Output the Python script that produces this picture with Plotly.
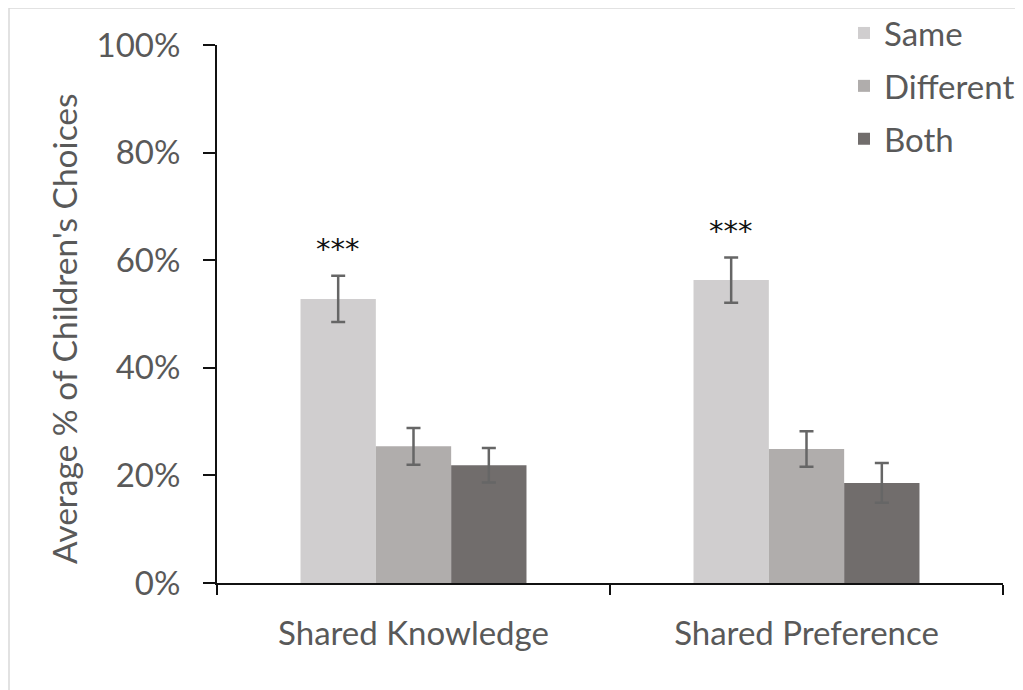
import plotly.graph_objects as go

categories = ["Shared Knowledge", "Shared Preference"]
series_names = ["Same", "Different", "Both"]
same_vals = [52.8, 56.3]
same_err = [4.3, 4.2]
diff_vals = [25.4, 24.9]
diff_err = [3.4, 3.3]
both_vals = [21.9, 18.6]
both_err = [3.2, 3.7]
colors = ["#d0cecf", "#b0adac", "#716d6c"]
y_ticks = [0, 20, 40, 60, 80, 100]
y_tick_labels = ["0%", "20%", "40%", "60%", "80%", "100%"]
star_labels = ["***", "***"]
y_title = "Average % of Children's Choices"

FONT = "Lato, 'Open Sans', sans-serif"
TXT = "#595959"
BARGAP = 0.425

W, H = 1015, 682
L, T, PW, PH = 209, 37, 786, 538

fig = go.Figure()
for name, vals, errs, col in zip(series_names, [same_vals, diff_vals, both_vals],
                                 [same_err, diff_err, both_err], colors):
    fig.add_trace(go.Bar(
        name=name, x=categories, y=vals, marker=dict(color=col, line=dict(width=0)),
        legendgroup=name,
        error_y=dict(type="data", array=errs, visible=True, color="#666666",
                     thickness=2.5, width=7),
    ))

bar_w = (1 - BARGAP) / 3
for i, (v, e, s) in enumerate(zip(same_vals, same_err, star_labels)):
    fig.add_annotation(x=i - bar_w, y=v + e + 5.0, xref="x", yref="y", text=s,
                       showarrow=False, yanchor="middle",
                       font=dict(family="DejaVu Sans, sans-serif", size=29, color="#111111"))

def px(xp): return (xp - L) / PW
def py(yp): return (T + PH - yp) / PH

# y-axis title (placed like the reference, slightly below the axis centre)
fig.add_annotation(x=px(56), y=py(321), xref="paper", yref="paper", text=y_title,
                   textangle=-90, showarrow=False, xanchor="center", yanchor="middle",
                   font=dict(family=FONT, size=33.5, color=TXT))

# light outer border (only top/left visible in reference)
fig.add_shape(type="rect", xref="paper", yref="paper",
              x0=px(1), x1=px(1040), y0=py(0), y1=py(710),
              line=dict(color="#d9d9d9", width=1.5), layer="below")

fig.update_layout(
    width=W, height=H,
    margin=dict(l=L, r=W - L - PW, t=T, b=H - T - PH, autoexpand=False),
    paper_bgcolor="white", plot_bgcolor="white",
    barmode="group", bargap=BARGAP, bargroupgap=0,
    font=dict(family=FONT, color=TXT, size=31),
    showlegend=True,
    legend=dict(x=px(836), y=py(-3), xanchor="left", yanchor="top",
                font=dict(size=33, color=TXT), tracegroupgap=7,
                bgcolor="rgba(0,0,0,0)", itemwidth=30),
    xaxis=dict(showline=True, linecolor="#111111", linewidth=2, ticks="outside",
               tickson="boundaries", ticklen=10, tickwidth=2, tickcolor="#111111",
               tickfont=dict(size=33, color=TXT), ticklabelstandoff=20,
               showgrid=False, zeroline=False, automargin=False),
    yaxis=dict(range=[0, 100], tickvals=y_ticks, ticktext=y_tick_labels,
               showline=True, linecolor="#111111", linewidth=2, ticks="outside",
               ticklen=12, tickwidth=2, tickcolor="#111111",
               tickfont=dict(size=33, color=TXT), ticklabelstandoff=16,
               showgrid=False, zeroline=False, automargin=False),
)

fig.write_html("out.html")
